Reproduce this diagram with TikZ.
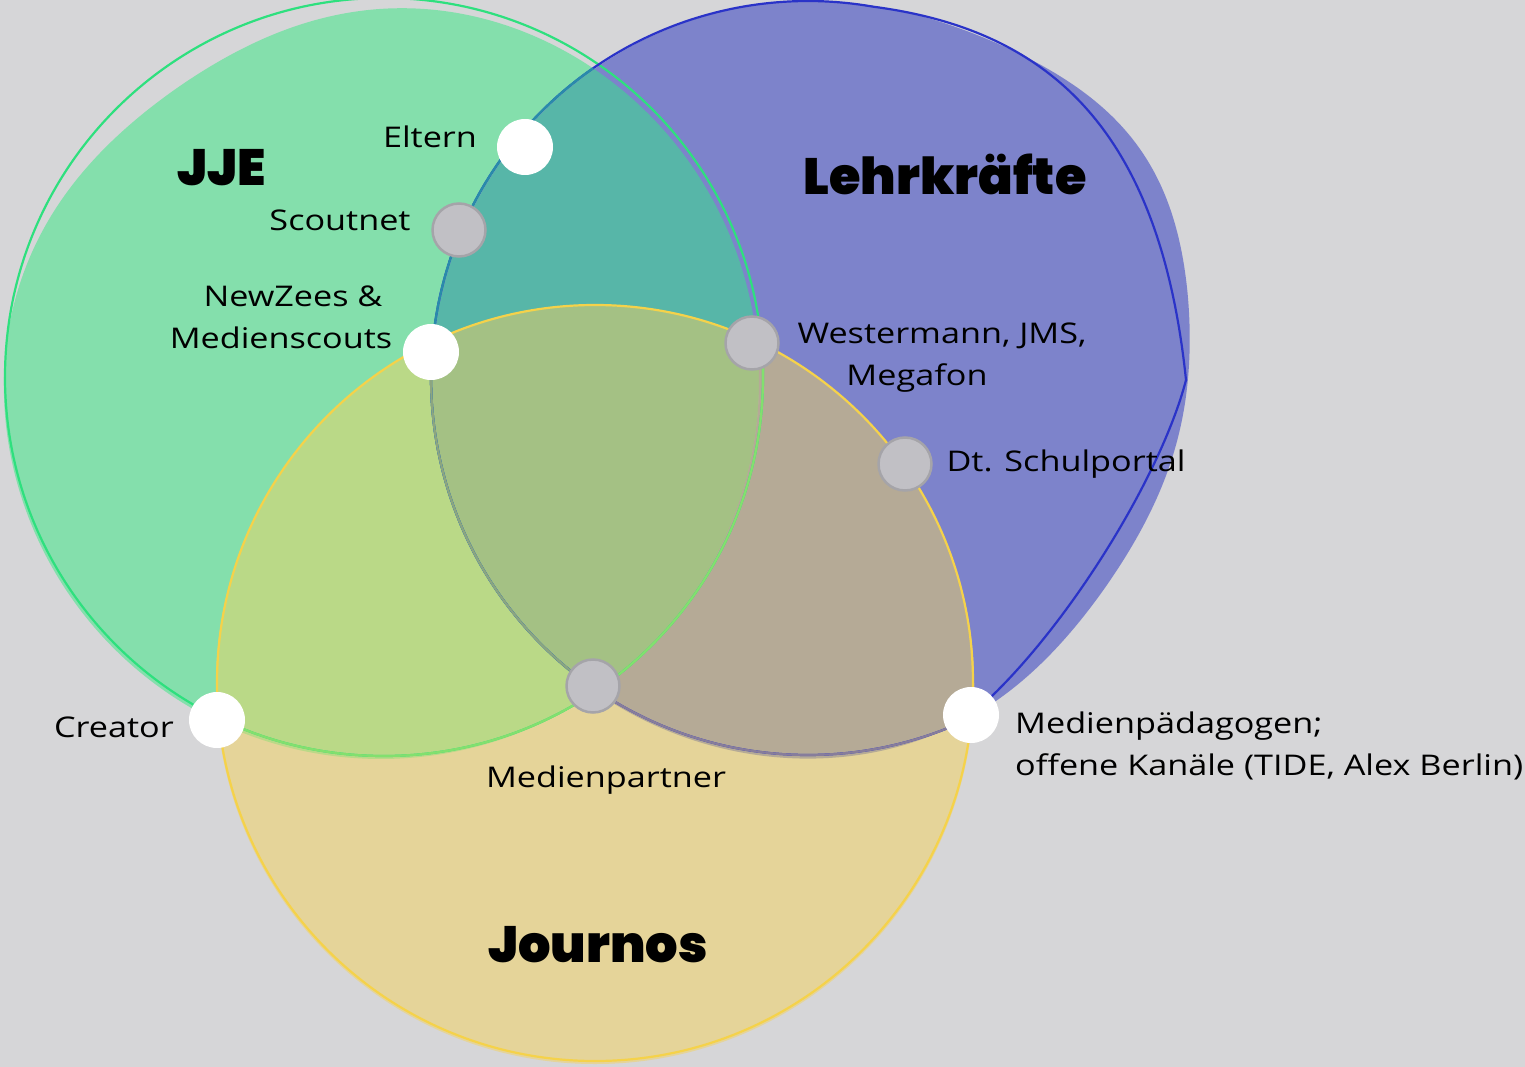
\documentclass[tikz,border=0pt]{standalone}
\usepackage{fontspec}
\setmainfont{Open Sans}[FakeStretch=1.2]
\newfontfamily\heavy{Poppins Black}
\definecolor{bg}{RGB}{214,214,216}
\definecolor{cG}{RGB}{132,223,172}
\definecolor{cB}{RGB}{125,131,203}
\definecolor{cY}{RGB}{229,212,153}
\definecolor{cGB}{RGB}{87,182,168}
\definecolor{cGY}{RGB}{186,217,135}
\definecolor{cBY}{RGB}{181,170,150}
\definecolor{cGBY}{RGB}{164,193,132}
\definecolor{lG}{RGB}{46,224,126}
\definecolor{lGin}{RGB}{130,224,110}
\definecolor{lB}{RGB}{42,51,200}
\definecolor{lBinG}{RGB}{40,140,170}
\definecolor{lBinY}{RGB}{135,125,155}
\definecolor{lBinGY}{RGB}{140,165,128}
\definecolor{lY}{RGB}{245,210,74}
\definecolor{dotgray}{RGB}{193,192,197}
\definecolor{dotedge}{RGB}{165,164,169}
\tikzset{
  wdot/.style={circle, fill=white, minimum size=56pt, inner sep=0pt},
  gdot/.style={circle, fill=dotgray, draw=dotedge, line width=2.5pt, minimum size=53pt, inner sep=0pt},
  lbl/.style={font=\fontsize{28.5}{42}\selectfont, inner sep=0pt, text=black, anchor=base},
  lbll/.style={lbl, anchor=base west},
  ttl/.style={font=\heavy\fontsize{51}{54}\selectfont, inner sep=0pt, text=black, anchor=base},
  oline/.style={line width=2.2pt},
}
\def\GF{plot[domain=0:360, samples=180, variable=\t, smooth] ({381+(378-21*exp(-((\t-235)/31)^2))*cos(\t)},{381+(378-21*exp(-((\t-235)/31)^2))*sin(\t)}) -- cycle}
\def\BF{plot[domain=-180:180, samples=180, variable=\t, smooth] ({811+(379+23*exp(-((\t+35)/22)^2)-19*exp(-((\t-35)/28)^2))*cos(\t)},{380+(379+23*exp(-((\t+35)/22)^2)-19*exp(-((\t-35)/28)^2))*sin(\t)}) -- cycle}
\def\YF{(595,685) circle[radius=379pt]}
\def\GO{(384,377) circle[radius=379pt]}
\def\BO{plot[domain=64:280, samples=120, variable=\t, smooth] ({808+377*cos(\t)},{378+377*sin(\t)}) .. controls (1050,30) and (1160,130) .. (1186,380) .. controls (1160,480) and (1060,640) .. (971,715) -- cycle}
\def\YO{(595,683) circle[radius=378pt]}
\begin{document}
\begin{tikzpicture}[x=1pt,y=-1pt]
\useasboundingbox (0,0) rectangle (1525,1067);
\fill[bg] (0,0) rectangle (1525,1067);
% base fills
\fill[cG] \GF;
\fill[cB] \BF;
\fill[cY] \YF;
% overlaps
\begin{scope}
  \clip \GF;
  \fill[cGB] \BF;
  \fill[cGY] \YF;
  \clip \BF;
  \fill[cGBY] \YF;
\end{scope}
\begin{scope}[even odd rule]
  \clip \BF;
  \clip (0,0) rectangle (1525,1067) \GF;
  \fill[cBY] \YF;
\end{scope}
% green outline
\draw[lG, oline] \GO;
\begin{scope}
  \clip \YF;
  \draw[lGin, oline] \GO;
\end{scope}
% blue outline
\draw[lB, oline, line join=round] \BO;
\begin{scope}
  \clip \GF;
  \draw[lBinG, oline] \BO;
\end{scope}
\begin{scope}[even odd rule]
  \clip \YF;
  \clip (0,0) rectangle (1525,1067) \GF;
  \draw[lBinY, oline] \BO;
\end{scope}
\begin{scope}
  \clip \YF;
  \clip \GF;
  \draw[lBinGY, oline] \BO;
\end{scope}
% yellow outline
\draw[lY, oline] \YO;
% dots
\node[wdot] (eltern) at (525,147) {};
\node[gdot] (scoutnet) at (459,230) {};
\node[wdot] (newzees) at (431,352) {};
\node[gdot] (westermann) at (752,343) {};
\node[gdot] (schulportal) at (905,464) {};
\node[wdot] (creator) at (217,720) {};
\node[gdot] (medienpartner) at (593,686) {};
\node[wdot] (medienpaed) at (971,715) {};
% labels
\node[lbl] (tEltern) at (430,148) {Eltern};
\node[lbl] (tScoutnet) at (340,231) {Scoutnet};
\node[lbl] (tNewZees) at (293,306) {NewZees \&};
\node[lbl] (tMedienscouts) at (281,348) {Medienscouts};
\node[lbl] (tWester) at (942,343) {Westermann, JMS,};
\node[lbl] (tMegafon) at (917,385) {Megafon};
\node[lbl] (tSchul) at (1066,471) {Dt. Schulportal};
\node[lbl] (tCreator) at (114,737) {Creator};
\node[lbl] (tPartner) at (606,787) {Medienpartner};
\node[lbll] (tPaed) at (1015,733) {Medienpädagogen;};
\node[lbll] (tKanal) at (1015,775) {offene Kanäle (TIDE, Alex Berlin)};
% titles
\node[ttl] (jje) at (222,186) {JJE};
\node[ttl] (lehr) at (945,195) {Lehrkräfte};
\node[ttl] (journos) at (598,962) {Journos};
\end{tikzpicture}
\end{document}
